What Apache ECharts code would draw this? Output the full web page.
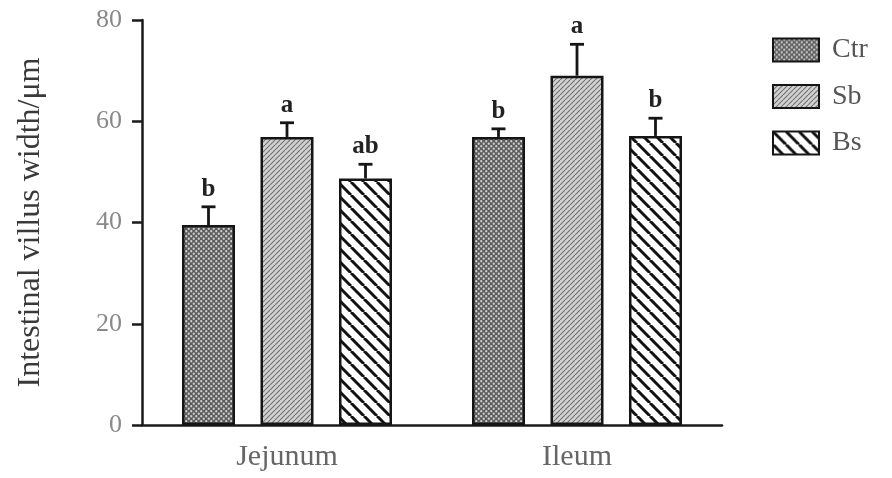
<!DOCTYPE html>
<html>
<head>
<meta charset="utf-8">
<script src="https://cdn.jsdelivr.net/npm/echarts@6/dist/echarts.min.js"></script>
<style>
html,body{margin:0;padding:0;background:#fff;}
#chart{width:892px;height:478px;}
</style>
</head>
<body>
<div id="chart"></div>
<script>
// ---- data ----
const categories = ['Jejunum', 'Ileum'];
const seriesNames = ['Ctr', 'Sb', 'Bs'];
const ctrValues = [39.5, 56.9];
const sbValues = [56.9, 69.0];
const bsValues = [48.7, 57.1];
const ctrSd = [3.6, 1.6];
const sbSd = [2.8, 6.2];
const bsSd = [2.8, 3.5];
const ctrLetters = ['b', 'b'];
const sbLetters = ['a', 'a'];
const bsLetters = ['ab', 'b'];
const yTicks = [0, 20, 40, 60, 80];

// ---- patterns ----
function makeTile(size, draw) {
  const c = document.createElement('canvas');
  c.width = size; c.height = size;
  const ctx = c.getContext('2d');
  draw(ctx, size);
  return c;
}
const ctrPattern = makeTile(5, (ctx, s) => {
  ctx.fillStyle = '#5c5c5c'; ctx.fillRect(0, 0, s, s);
  ctx.fillStyle = '#cfcfcf';
  ctx.beginPath(); ctx.arc(1.25, 1.25, 1.15, 0, Math.PI * 2); ctx.fill();
  ctx.beginPath(); ctx.arc(3.75, 3.75, 1.15, 0, Math.PI * 2); ctx.fill();
});
const sbPattern = makeTile(5, (ctx, s) => {
  ctx.fillStyle = '#d2d2d2'; ctx.fillRect(0, 0, s, s);
  ctx.strokeStyle = '#707070'; ctx.lineWidth = 1.1;
  for (let x = -s; x <= s; x += s) {
    ctx.beginPath(); ctx.moveTo(x, s); ctx.lineTo(x + s, 0); ctx.stroke();
  }
});
const bsPattern = makeTile(13, (ctx, s) => {
  ctx.fillStyle = '#ffffff'; ctx.fillRect(0, 0, s, s);
  ctx.strokeStyle = '#111111'; ctx.lineWidth = 3;
  for (let x = -s; x <= s; x += s) {
    ctx.beginPath(); ctx.moveTo(x, 0); ctx.lineTo(x + s, s); ctx.stroke();
  }
});
const patterns = [ctrPattern, sbPattern, bsPattern];
const values = [ctrValues, sbValues, bsValues];
const sds = [ctrSd, sbSd, bsSd];
const letters = [ctrLetters, sbLetters, bsLetters];

const BAR_W = 53;
const STEP = 78.5;
const FONT = '"Liberation Serif", "Times New Roman", serif';

const series = [];
seriesNames.forEach((name, i) => {
  series.push({
    name: name,
    type: 'bar',
    barWidth: BAR_W,
    barGap: ((STEP - BAR_W) / BAR_W * 100).toFixed(1) + '%',
    data: values[i],
    itemStyle: {
      color: { image: patterns[i], repeat: 'repeat' },
      borderColor: '#151515',
      borderWidth: 2.5
    },
    emphasis: { disabled: true },
    z: 2
  });
});
seriesNames.forEach((name, i) => {
  const offset = (i - 1) * STEP;
  series.push({
    type: 'custom',
    name: name + ' err',
    data: categories.map((c, k) => [k, values[i][k], sds[i][k]]),
    z: 5,
    silent: true,
    renderItem: function (params, api) {
      const k = api.value(0);
      const v = api.value(1);
      const sd = api.value(2);
      const letter = letters[i][params.dataIndex];
      const base = api.coord([k, v]);
      const top = api.coord([k, v + sd]);
      const x = base[0] + offset;
      return {
        type: 'group',
        children: [
          { type: 'line', shape: { x1: x, y1: base[1], x2: x, y2: top[1] },
            style: { stroke: '#151515', lineWidth: 2.8 } },
          { type: 'line', shape: { x1: x - 7, y1: top[1], x2: x + 7, y2: top[1] },
            style: { stroke: '#151515', lineWidth: 2.8 } },
          { type: 'text', x: x, y: top[1] - 5,
            style: { text: letter, fill: '#222', font: 'bold 25px ' + FONT,
                     align: 'center', verticalAlign: 'bottom' } }
        ]
      };
    }
  });
});

const chart = echarts.init(document.getElementById('chart'), null, { renderer: 'canvas' });
chart.setOption({
  animation: false,
  backgroundColor: '#ffffff',
  grid: { left: 142, right: 170, top: 20, bottom: 53, containLabel: false },
  legend: {
    data: seriesNames,
    orient: 'vertical',
    left: 767,
    top: 31,
    itemWidth: 46,
    itemHeight: 23,
    itemGap: 18.5,
    icon: 'rect',
    selectedMode: false,
    textStyle: { fontFamily: FONT, fontSize: 28, color: '#555', padding: [0, 0, 0, 8], lineHeight: 23 }
  },
  xAxis: {
    type: 'category',
    data: categories,
    axisLine: { lineStyle: { color: '#1a1a1a', width: 2.5 } },
    axisTick: { alignWithLabel: true, length: 9, lineStyle: { color: '#1a1a1a', width: 2.5 } },
    axisLabel: { fontFamily: FONT, fontSize: 30, color: '#666', margin: 17 }
  },
  yAxis: {
    type: 'value',
    min: yTicks[0],
    max: yTicks[yTicks.length - 1],
    interval: yTicks[1] - yTicks[0],
    name: 'Intestinal villus width/μm',
    nameLocation: 'middle',
    nameGap: 95,
    nameTextStyle: { fontFamily: FONT, fontSize: 32, color: '#3a3a3a' },
    splitLine: { show: false },
    axisLine: { show: true, lineStyle: { color: '#1a1a1a', width: 2.5 } },
    axisTick: { show: true, length: 10, lineStyle: { color: '#1a1a1a', width: 2.5 } },
    axisLabel: { fontFamily: FONT, fontSize: 26, color: '#8a8a8a', margin: 20 }
  },
  series: series
});
</script>
</body>
</html>
